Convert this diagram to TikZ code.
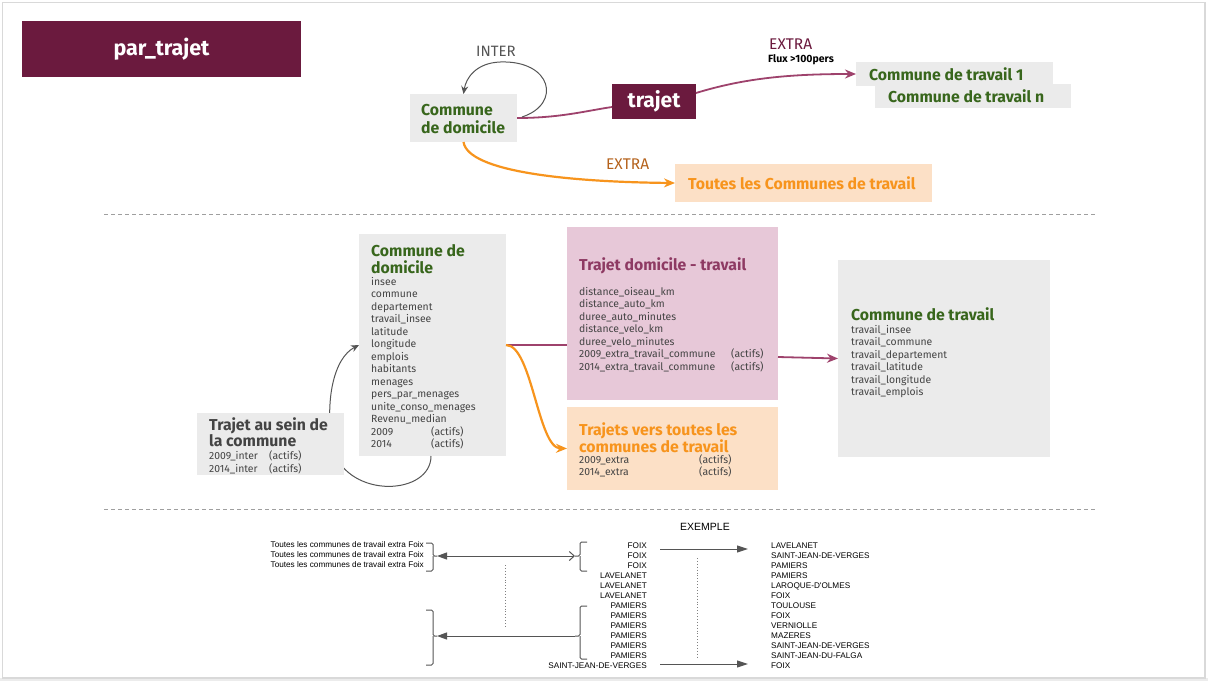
\documentclass[tikz,border=0pt]{standalone}
\usepackage{fontspec}
\setmainfont{Fira Sans}
\newfontfamily\arialf{Liberation Sans}
\usetikzlibrary{arrows.meta}
\definecolor{maroon}{RGB}{107,26,62}
\definecolor{mline}{RGB}{158,66,108}
\definecolor{mhead}{RGB}{142,58,99}
\definecolor{pinkf}{RGB}{231,200,216}
\definecolor{greenh}{RGB}{56,102,28}
\definecolor{grayf}{RGB}{235,235,235}
\definecolor{orangeh}{RGB}{247,148,29}
\definecolor{peach}{RGB}{252,224,198}
\definecolor{extrao}{RGB}{181,98,28}
\definecolor{txt}{RGB}{68,68,68}
\definecolor{arr}{RGB}{85,85,85}
\begin{document}
\begin{tikzpicture}[x=1pt,y=-1pt,
  fbox/.style={draw=none,anchor=north west,inner sep=0,outer sep=0},
  lst/.style={anchor=base west,inner sep=0,text=txt,font=\fontsize{10.4}{12}\selectfont},
  hd/.style={anchor=base west,inner sep=0,font=\bfseries\fontsize{15.8}{18}\selectfont},
  bt/.style={inner sep=0,font=\arialf\fontsize{8.2}{10}\selectfont},
  mcurve/.style={draw=mline,line width=1.8pt},
  ocurve/.style={draw=orangeh,line width=2.2pt},
  gloop/.style={draw=arr,line width=1pt,-{Stealth[length=8pt,width=7pt]}},
  barr/.style={draw=arr,line width=1pt},
  brk/.style={draw=arr,line width=1pt,rounded corners=1.5pt},
  dline/.style={draw=gray!75,line width=1pt,dash pattern=on 4pt off 3pt}]
\useasboundingbox (0,0) rectangle (1208,681);
\fill[white] (0,0) rectangle (1208,681);
\fill[gray!15] (0,678) rectangle (1208,681);
\draw[gray!30,line width=1.5pt] (2.5,2.5) rectangle (1205,678);

% ---------- top ----------
\node[fbox,fill=maroon,minimum width=279,minimum height=56] (title) at (22,21) {};
\node[inner sep=0,text=white,font=\bfseries\fontsize{21.5}{24}\selectfont] (titlet) at (title.center) {par\_trajet};

\node[fbox,fill=grayf,minimum width=107,minimum height=48] (tdom) at (410,94) {};
\node[hd,text=greenh] (tdom1) at (421,115) {Commune};
\node[hd,text=greenh] (tdom2) at (421,133) {de domicile};

\node[fbox,fill=maroon,minimum width=84,minimum height=35] (traj) at (612,84) {};
\node[inner sep=0,text=white,font=\bfseries\fontsize{21}{24}\selectfont] (trajt) at (traj.center) {trajet};

\node[fbox,fill=grayf,minimum width=197,minimum height=24] (ct1) at (856,62) {};
\node[hd,text=greenh] (ct1t) at (869,80) {Commune de travail 1};
\node[fbox,fill=grayf,minimum width=196,minimum height=24] (ctn) at (875,84) {};
\node[hd,text=greenh] (ctnt) at (888,102) {Commune de travail n};

\node[fbox,fill=peach,minimum width=257,minimum height=38] (toutes) at (675,164) {};
\node[hd,text=orangeh] (toutest) at (688,189) {Toutes les Communes de travail};

\node[anchor=base west,inner sep=0,text=arr,font=\fontsize{15}{17}\selectfont] (inter) at (476,56) {INTER};
\node[anchor=base west,inner sep=0,text=maroon,font=\fontsize{15.5}{17}\selectfont] (extram) at (769,49) {EXTRA};
\node[anchor=base west,inner sep=0,text=black,font=\bfseries\fontsize{10.5}{12}\selectfont] (flux) at (768,62) {Flux >100pers};
\node[anchor=base west,inner sep=0,text=extrao,font=\fontsize{15.5}{17}\selectfont] (extrao) at (606,169) {EXTRA};

\draw[mcurve] (tdom.east) .. controls (560,118) and (585,111) .. ([yshift=-5.5pt]traj.west);
\draw[mcurve,-{Stealth[length=11pt,width=9pt]}] ([yshift=8.5pt]traj.east) .. controls (745,78) and (790,74) .. (ct1.west);
\draw[ocurve,-{Stealth[length=11pt,width=9pt]}] (tdom.south) .. controls (468,172) and (570,182) .. (toutes.west);
\draw[gloop] (522,117) .. controls (562,104) and (552,60) .. (500,62) .. controls (476,63) and (466,78) .. (tdom.north);

\draw[dline] (104,214) -- (1095,214);

% ---------- middle ----------
\node[fbox,fill=grayf,minimum width=147,minimum height=222] (dom) at (359,234) {};
\draw[draw=arr,line width=1pt,-{Stealth[length=8pt,width=7pt]}] ([xshift=72pt]dom.south west) .. controls (431,495) and (350,500) .. (333,450) .. controls (324,400) and (334,358) .. (dom.west);
\node[fbox,fill=grayf,minimum width=147,minimum height=62] (sein) at (197,413) {};

\node[hd,text=greenh] (domh1) at (371,256) {Commune de};
\node[hd,text=greenh] (domh2) at (371,273) {domicile};
\foreach \t [count=\i] in {insee,commune,departement,travail\_insee,latitude,longitude,emplois,habitants,menages,pers\_par\_menages,unite\_conso\_menages,Revenu\_median,2009,2014}
  \node[lst] (d\i) at (371,{285+12.5*(\i-1)}) {\t};
\node[lst] (d13a) at (431,435) {(actifs)};
\node[lst] (d14a) at (431,447.5) {(actifs)};

\node[hd,text=txt] (seinh1) at (209,430) {Trajet au sein de};
\node[hd,text=txt] (seinh2) at (209,446) {la commune};
\node[lst] (s1) at (209,459) {2009\_inter};
\node[lst] (s2) at (209,472) {2014\_inter};
\node[lst] (s1a) at (269,459) {(actifs)};
\node[lst] (s2a) at (269,472) {(actifs)};

\node[fbox,fill=pinkf,minimum width=211,minimum height=173] (pink) at (567,227) {};
\node[hd,text=mhead] (pinkh) at (579,270) {Trajet domicile - travail};
\foreach \t [count=\i] in {distance\_oiseau\_km,distance\_auto\_km,duree\_auto\_minutes,distance\_velo\_km,duree\_velo\_minutes,2009\_extra\_travail\_commune,2014\_extra\_travail\_commune}
  \node[lst] (p\i) at (579,{295+12.5*(\i-1)}) {\t};
\node[lst] (p6a) at (731,357.5) {(actifs)};
\node[lst] (p7a) at (731,370) {(actifs)};

\node[fbox,fill=peach,minimum width=211,minimum height=83] (pch) at (567,407) {};
\node[hd,text=orangeh] (pchh1) at (579,435) {Trajets vers toutes les};
\node[hd,text=orangeh] (pchh2) at (579,452) {communes de travail};
\node[lst] (q1) at (579,463) {2009\_extra};
\node[lst] (q2) at (579,475) {2014\_extra};
\node[lst] (q1a) at (699,463) {(actifs)};
\node[lst] (q2a) at (699,475) {(actifs)};

\node[fbox,fill=grayf,minimum width=212,minimum height=197] (ctr) at (838,260) {};
\node[hd,text=greenh] (ctrh) at (851,320) {Commune de travail};
\foreach \t [count=\i] in {travail\_insee,travail\_commune,travail\_departement,travail\_latitude,travail\_longitude,travail\_emplois}
  \node[lst] (c\i) at (851,{333+12.5*(\i-1)}) {\t};

\draw[mcurve] (dom.east) -- (pink.west |- dom.east);
\draw[ocurve,-{Stealth[length=11pt,width=9pt]}] (dom.east) .. controls (532,345) and (538,448) .. (pch.west);
\draw[mcurve,-{Stealth[length=11pt,width=9pt]}] ([yshift=-43.5pt]pink.east) -- (ctr.west);

\draw[dline] (104,509) -- (1095,509);

% ---------- bottom ----------
\node[anchor=base,inner sep=0,font=\arialf\fontsize{10.5}{12}\selectfont] (ex) at (705,530) {EXEMPLE};
\foreach \i in {1,2,3}
  \node[bt,anchor=base east] (l\i) at (424,{547+10*(\i-1)}) {Toutes les communes de travail extra Foix};
\foreach \t [count=\i] in {FOIX,FOIX,FOIX,LAVELANET,LAVELANET,LAVELANET,PAMIERS,PAMIERS,PAMIERS,PAMIERS,PAMIERS,PAMIERS,SAINT-JEAN-DE-VERGES}
  \node[bt,anchor=base east] (m\i) at (647,{548+10*(\i-1)}) {\t};
\foreach \t [count=\i] in {LAVELANET,SAINT-JEAN-DE-VERGES,PAMIERS,PAMIERS,LAROQUE-D'OLMES,FOIX,TOULOUSE,FOIX,VERNIOLLE,MAZERES,SAINT-JEAN-DE-VERGES,SAINT-JEAN-DU-FALGA,FOIX}
  \node[bt,anchor=base west] (r\i) at (771,{548+10*(\i-1)}) {\t};

% brackets
\coordinate (bl1) at (437,556);
\coordinate (bl2) at (437,636);
\coordinate (br1) at (575,556);
\coordinate (br2) at (575,636);
\draw[brk] (426,543) -| (433,556) -- (bl1);
\draw[brk] (433,556) |- (426,571);
\draw[brk] (426,610) -| (433,636) -- (bl2);
\draw[brk] (433,636) |- (426,665);
\draw[brk] (587,542) -| (580,556) -- (br1);
\draw[brk] (580,556) |- (587,571);
\draw[brk] (587,606) -| (580,636) -- (br2);
\draw[brk] (580,636) |- (587,659);

\draw[barr,{Triangle[length=10pt,width=7pt]}-{Straight Barb[length=5pt,width=9pt]}] (bl1) -- (br1);
\draw[barr,-{Triangle[length=10pt,width=7pt]}] (br2) -- (bl2);

\coordinate (a1s) at (660,549);
\coordinate (a1e) at (748,549);
\coordinate (a2s) at (660,664);
\coordinate (a2e) at (748,664);
\draw[barr,-{Triangle[length=11pt,width=7pt]}] (a1s) -- (a1e);
\draw[barr,-{Triangle[length=11pt,width=7pt]}] (a2s) -- (a2e);

\coordinate (dt1) at (505,565);
\coordinate (db1) at (505,628);
\coordinate (dt2) at (697,558);
\coordinate (db2) at (697,657);
\draw[draw=gray,line width=0.9pt,dotted] (dt1) -- (db1);
\draw[draw=gray,line width=0.9pt,dotted] (dt2) -- (db2);
\end{tikzpicture}
\end{document}
